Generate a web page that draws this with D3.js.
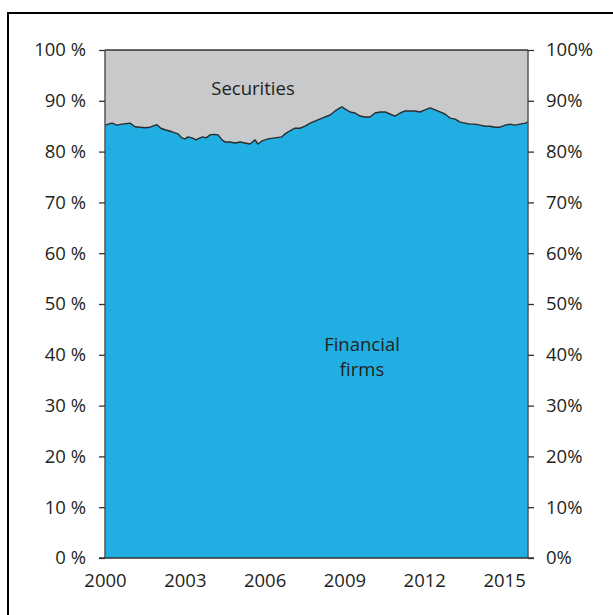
<!DOCTYPE html>
<html>
<head>
<meta charset="utf-8">
<script src="https://cdn.jsdelivr.net/npm/d3@7"></script>
<style>
  body { margin: 0; background: #fff; }
  svg { display: block; }
  text { font-family: "Open Sans", sans-serif; fill: #231f20; }
</style>
</head>
<body>
<svg id="chart" width="613" height="615"></svg>
<script>
// ---- data ----
const years = [
  2000.00, 2000.26, 2000.45, 2000.64, 2000.94, 2001.13, 2001.30, 2001.50, 2001.69, 2001.95,
  2002.10, 2002.26, 2002.52, 2002.74, 2002.89, 2003.01, 2003.12, 2003.27, 2003.42, 2003.57,
  2003.68, 2003.80, 2003.95, 2004.10, 2004.25, 2004.40, 2004.51, 2004.70, 2004.89, 2005.08,
  2005.26, 2005.45, 2005.64, 2005.75, 2005.90, 2006.13, 2006.39, 2006.65, 2006.77, 2006.95,
  2007.14, 2007.33, 2007.52, 2007.71, 2007.89, 2008.16, 2008.46, 2008.65, 2008.83, 2008.91,
  2009.02, 2009.21, 2009.40, 2009.59, 2009.77, 2009.96, 2010.15, 2010.34, 2010.53, 2010.71,
  2010.90, 2011.09, 2011.28, 2011.47, 2011.65, 2011.84, 2012.03, 2012.22, 2012.41, 2012.59,
  2012.78, 2012.97, 2013.16, 2013.35, 2013.53, 2013.72, 2013.91, 2014.10, 2014.29, 2014.47,
  2014.66, 2014.85, 2015.04, 2015.23, 2015.41, 2015.60, 2015.79, 2015.90
];
const financialFirms = [
  85.2, 85.6, 85.2, 85.4, 85.6, 84.9, 84.8, 84.7, 84.8, 85.3,
  84.6, 84.3, 83.9, 83.5, 82.7, 82.5, 82.9, 82.7, 82.3, 82.7,
  82.9, 82.7, 83.3, 83.4, 83.3, 82.3, 81.9, 81.9, 81.7, 81.9,
  81.7, 81.5, 82.3, 81.5, 82.1, 82.5, 82.7, 82.9, 83.5, 84.1,
  84.6, 84.6, 85.0, 85.6, 86.0, 86.6, 87.2, 88.0, 88.6, 88.8,
  88.4, 87.8, 87.6, 87.0, 86.8, 86.8, 87.6, 87.8, 87.8, 87.4,
  87.0, 87.6, 88.0, 88.0, 88.0, 87.8, 88.2, 88.6, 88.2, 87.8,
  87.4, 86.6, 86.4, 85.8, 85.6, 85.4, 85.4, 85.2, 85.0, 85.0,
  84.8, 84.8, 85.2, 85.4, 85.2, 85.4, 85.6, 85.8
];
const securities = financialFirms.map(v => 100 - v);
const xTickYears = [2000, 2003, 2006, 2009, 2012, 2015];
const yTicks = [0, 10, 20, 30, 40, 50, 60, 70, 80, 90, 100];
const seriesNames = ["Financial firms", "Securities"];

// ---- layout ----
const svg = d3.select("#chart");
const pL = 105, pR = 528, pT = 50, pB = 558;
const FS = "18.5px";
const x = d3.scaleLinear().domain([2000, 2015.9]).range([pL, pR]);
const y = d3.scaleLinear().domain([0, 100]).range([pB, pT]);

// outer frame
svg.append("rect")
  .attr("x", 8).attr("y", 13).attr("width", 700).attr("height", 700)
  .attr("fill", "none").attr("stroke", "#000").attr("stroke-width", 2);

const data = years.map((yr, i) => ({ yr, ff: financialFirms[i], sec: securities[i] }));

// securities (stacked on top)
svg.append("path")
  .datum(data)
  .attr("fill", "#c8c9cb")
  .attr("d", d3.area().x(d => x(d.yr)).y0(d => y(d.ff)).y1(d => y(d.ff + d.sec)));

// financial firms
svg.append("path")
  .datum(data)
  .attr("fill", "#20aee3")
  .attr("d", d3.area().x(d => x(d.yr)).y0(y(0)).y1(d => y(d.ff)));

// boundary line
svg.append("path")
  .datum(data)
  .attr("fill", "none")
  .attr("stroke", "#2b2b2b")
  .attr("stroke-width", 1.4)
  .attr("stroke-linejoin", "round")
  .attr("d", d3.line().x(d => x(d.yr)).y(d => y(d.ff)));

// axes
const leftAxis = d3.axisLeft(y).tickValues(yTicks).tickSize(6).tickPadding(13)
  .tickFormat(d => d + " %");
const rightAxis = d3.axisRight(y).tickValues(yTicks).tickSize(6).tickPadding(12)
  .tickFormat(d => d + "%");
const bottomAxis = d3.axisBottom(x).tickValues(xTickYears).tickSize(0).tickPadding(16)
  .tickFormat(d3.format("d"));

function styleAxis(g) {
  g.selectAll("path.domain").attr("stroke", "#555").attr("stroke-width", 1.5);
  g.selectAll(".tick line").attr("stroke", "#333").attr("stroke-width", 1.3);
  g.selectAll(".tick text").style("font-family", "'Open Sans', sans-serif")
    .style("font-size", FS).attr("fill", "#231f20");
}

svg.append("g").attr("transform", `translate(${pL},0)`).call(leftAxis).call(styleAxis)
  .call(g => g.select("path.domain").attr("d", `M0,${pB}V${pT}`));
svg.append("g").attr("transform", `translate(${pR},0)`).call(rightAxis).call(styleAxis)
  .call(g => g.select("path.domain").attr("d", `M0,${pB}V${pT}`));
svg.append("g").attr("transform", `translate(0,${pB})`).call(bottomAxis).call(styleAxis)
  .call(g => g.select("path.domain").attr("d", `M${pL - 6},0H${pR + 6}`).attr("stroke", "#333"));

// top border line
svg.append("line")
  .attr("x1", pL).attr("x2", pR).attr("y1", pT).attr("y2", pT)
  .attr("stroke", "#333").attr("stroke-width", 1.3);

// labels
svg.append("text").attr("x", 253).attr("y", 95).attr("text-anchor", "middle")
  .style("font-size", FS).text(seriesNames[1]);
const ffl = svg.append("text").attr("x", 362).attr("text-anchor", "middle").style("font-size", FS);
ffl.append("tspan").attr("x", 362).attr("y", 351).text("Financial");
ffl.append("tspan").attr("x", 362).attr("y", 376).text("firms");
</script>
</body>
</html>
